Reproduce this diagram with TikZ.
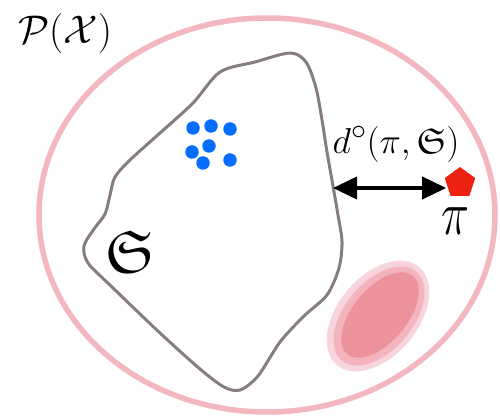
\documentclass[tikz,border=0pt]{standalone}
\usepackage{graphicx}
\usepackage{amssymb}
\usetikzlibrary{arrows.meta,shapes.geometric}
\definecolor{ringpink}{RGB}{243,183,192}
\definecolor{blobgray}{RGB}{135,125,125}
\definecolor{dotblue}{RGB}{5,110,255}
\definecolor{pired}{RGB}{238,34,17}
\definecolor{pinkA}{RGB}{248,212,221}
\definecolor{pinkB}{RGB}{243,180,191}
\definecolor{pinkC}{RGB}{236,146,157}
\tikzset{
  dotnode/.style={circle,fill=dotblue,inner sep=0pt,minimum size=13.5pt},
  bigtext/.style={inner sep=0pt,text=black},
  distarrow/.style={line width=4pt,{Triangle[length=24pt,width=22pt]}-{Triangle[length=24pt,width=22pt]}},
}
\begin{document}
\begin{tikzpicture}[x=1pt,y=-1pt]
\useasboundingbox (0,0) rectangle (500,419);
% outer set
\draw[ringpink,line width=5.5pt] (267,215) ellipse [x radius=228, y radius=197];
% pink region
\fill[pinkA,rotate around={50:(378,316)}] (378,316) ellipse [x radius=64, y radius=40];
\fill[pinkB,rotate around={50:(379,316)}] (379,316) ellipse [x radius=58, y radius=34];
\fill[pinkC,rotate around={50:(380,315)}] (380,315) ellipse [x radius=51, y radius=27];
% blob S
\draw[blobgray,line width=3pt,line join=round] plot[smooth cycle,tension=0.5] coordinates {
 (220,72) (255,62) (290,53) (306,62) (316,88) (322,120) (327,152) (333,186) (338,215)
 (342,242) (339,268) (327,295) (304,316) (280,342) (258,376) (240,390) (224,387)
 (200,369) (160,333) (112,287) (88,263) (84,246) (94,229) (105,214) (110,195)
 (115,177) (130,160) (160,133) (193,103)};
% dots
\node[dotnode] (d1) at (193,128) {};
\node[dotnode] (d2) at (211,126) {};
\node[dotnode] (d3) at (230,129) {};
\node[dotnode] (d4) at (192,152) {};
\node[dotnode] (d5) at (209,146) {};
\node[dotnode] (d6) at (203,163) {};
\node[dotnode] (d7) at (230,160) {};
% labels
\node[bigtext] (PX) at (65,33) {\scalebox{1.61}{\Huge $\mathcal{P}(\mathcal{X})$}};
\node[bigtext,font=\fontsize{60}{64}\selectfont] (Slab) at (130,252) {$\mathfrak{S}$};
\node[bigtext] (dlab) at (396,144) {\scalebox{1.45}{\Huge $d^{\circ}(\pi,\mathfrak{S})$}};
% pi
\node[regular polygon,regular polygon sides=5,fill=pired,inner sep=0pt,minimum size=32pt] (pi) at (460,183) {};
\node[bigtext] (pilab) at (455,221) {\scalebox{1.9}[2.5]{\Huge $\pi$}};
% distance arrow
\coordinate (sedge) at (333,188);
\draw[distarrow] (sedge) -- (sedge -| pi.west);
\end{tikzpicture}
\end{document}
